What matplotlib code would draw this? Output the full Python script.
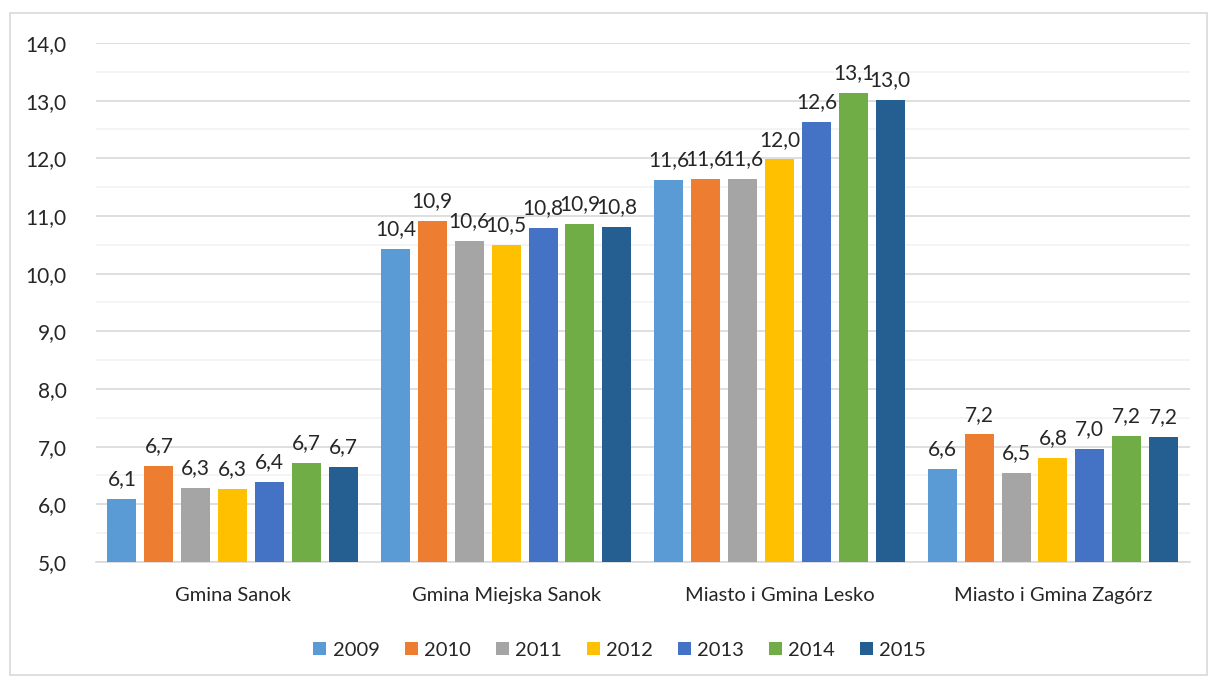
import numpy as np
import matplotlib.pyplot as plt
from matplotlib.patches import Rectangle

# dane
gminy = ['Gmina Sanok', 'Gmina Miejska Sanok', 'Miasto i Gmina Lesko', 'Miasto i Gmina Zagórz']
lata = ['2009', '2010', '2011', '2012', '2013', '2014', '2015']
v2009 = [6.09, 10.43, 11.62, 6.61]
v2010 = [6.66, 10.91, 11.64, 7.21]
v2011 = [6.28, 10.57, 11.64, 6.54]
v2012 = [6.27, 10.50, 11.98, 6.81]
v2013 = [6.39, 10.79, 12.63, 6.96]
v2014 = [6.72, 10.86, 13.13, 7.19]
v2015 = [6.65, 10.81, 13.01, 7.17]
kolory = ['#5B9BD5', '#ED7D31', '#A5A5A5', '#FFC000', '#4472C4', '#70AD47', '#255E91']

plt.rcParams['font.family'] = ['Lato', 'DejaVu Sans']

fig = plt.figure(figsize=(12.09, 6.77), dpi=100)
ax = fig.add_axes([0.0794, 0.170, 0.9046, 0.7665])

x = np.arange(len(gminy))
pitch = 0.135
width = 0.106
serie = [v2009, v2010, v2011, v2012, v2013, v2014, v2015]
for i, vals in enumerate(serie):
    pos = x + (i - 3) * pitch
    ax.bar(pos, np.array(vals) - 5, bottom=5, width=width, color=kolory[i],
           label=lata[i], zorder=3)
    for p, v in zip(pos, vals):
        ax.text(p, v + 0.17, f'{v:.1f}'.replace('.', ','), ha='center', va='bottom',
                fontsize=15, color='#262626', zorder=4)

ax.set_xlim(-0.5, 3.5)
ax.set_ylim(5, 14)
ax.set_yticks(np.arange(5, 14.01, 1))
ax.set_yticklabels([f'{t:.1f}'.replace('.', ',') for t in np.arange(5, 14.01, 1)])
ax.set_yticks(np.arange(5.5, 14, 1), minor=True)
ax.set_xticks(x)
ax.set_xticklabels(gminy)
ax.tick_params(axis='y', length=0, pad=21, labelsize=15, labelcolor='#262626')
ax.tick_params(axis='y', which='minor', length=0)
ax.tick_params(axis='x', length=0, pad=18, labelsize=14.5, labelcolor='#262626')
ax.grid(axis='y', which='major', color='#D9D9D9', linewidth=1.2, zorder=0)
ax.grid(axis='y', which='minor', color='#F2F2F2', linewidth=1.2, zorder=0)
for s in ['top', 'right', 'left']:
    ax.spines[s].set_visible(False)
ax.spines['bottom'].set_color('#D9D9D9')
ax.spines['bottom'].set_linewidth(1.2)

ax.legend(loc='center', bbox_to_anchor=(0.479, -0.17), ncol=7, frameon=False,
          fontsize=14.5, handlelength=0.65, handleheight=0.65, handletextpad=0.3,
          columnspacing=1.25, labelcolor='#262626')

# ramka wykresu
fig.patches.append(Rectangle((10 / 1209, 2 / 677), 1197 / 1209, 662 / 677,
                             transform=fig.transFigure, fill=False,
                             edgecolor='#D9D9D9', linewidth=1.2))

plt.savefig('out.png', dpi=100)
